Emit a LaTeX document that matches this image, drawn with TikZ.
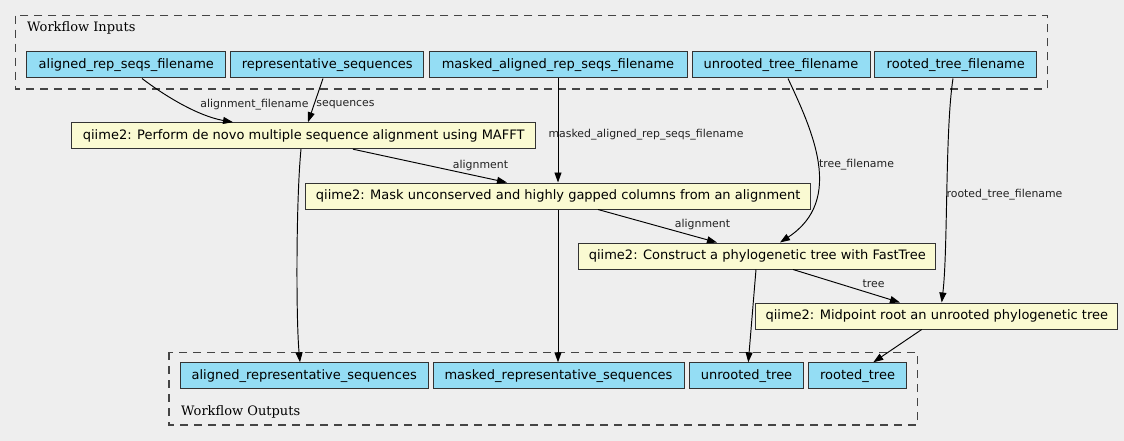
\documentclass[tikz,border=0pt]{standalone}
\usepackage{fontspec}
\setmainfont{DejaVu Sans}
\newfontfamily\clusterfont{DejaVu Serif}
\usetikzlibrary{arrows.meta}
\definecolor{bg}{HTML}{EEEEEE}
\definecolor{iofill}{HTML}{94DDF4}
\definecolor{stepfill}{HTML}{FAFAD2}
\definecolor{bordercol}{HTML}{333333}
\definecolor{clustercol}{HTML}{444444}
\definecolor{labelcol}{HTML}{222222}
\begin{document}
\begin{tikzpicture}[x=1pt,y=-1pt,
  basebox/.style={draw=bordercol, line width=1pt, minimum height=26pt,
    inner xsep=0pt, inner ysep=0pt, font=\fontsize{13}{15}\selectfont, anchor=center},
  iobox/.style={basebox, fill=iofill},
  stepbox/.style={basebox, fill=stepfill},
  clusterbox/.style={draw=clustercol, line width=1.1pt, dash pattern=on 8pt off 6pt},
  clusterlabel/.style={font=\clusterfont\fontsize{13}{15}\selectfont, anchor=base west, inner sep=0pt},
  edgelabel/.style={font=\fontsize{10.9}{12}\selectfont, text=labelcol, inner sep=0pt, anchor=center},
  edge/.style={draw=black, line width=0.95pt, -{Triangle[length=10pt,width=7pt]}}
]
\fill[bg] (0,0) rectangle (1124,441);
\useasboundingbox (0,0) rectangle (1124,441);

% clusters
\draw[clusterbox] (15.7,15.7) rectangle (1047.7,89);
\node[clusterlabel] (inlabel) at (27,32) {Workflow Inputs};
\draw[clusterbox] (169,352.3) rectangle (917.3,425);
\node[clusterlabel] (outlabel) at (181,415) {Workflow Outputs};

% inputs
\node[iobox, minimum width=199pt] (ars) at (126.3,65) {aligned\_rep\_seqs\_filename};
\node[iobox, minimum width=193pt] (rs) at (327.3,65) {representative\_sequences};
\node[iobox, minimum width=258pt] (mars) at (558,65) {masked\_aligned\_rep\_seqs\_filename};
\node[iobox, minimum width=178pt] (utf) at (781,65) {unrooted\_tree\_filename};
\node[iobox, minimum width=162pt] (rtf) at (955.8,65) {rooted\_tree\_filename};

% steps
\node[stepbox, minimum width=464pt] (mafft) at (303.7,135.7) {qiime2: Perform de novo multiple sequence alignment using MAFFT};
\node[stepbox, minimum width=505pt] (mask) at (558.2,196) {qiime2: Mask unconserved and highly gapped columns from an alignment};
\node[stepbox, minimum width=356.7pt] (fast) at (757.3,256) {qiime2: Construct a phylogenetic tree with FastTree};
\node[stepbox, minimum width=362.3pt] (mid) at (936.8,316) {qiime2: Midpoint root an unrooted phylogenetic tree};

% outputs
\node[iobox, minimum width=248.3pt] (arso) at (304.2,375.8) {aligned\_representative\_sequences};
\node[iobox, minimum width=251pt] (mrs) at (558.5,375.8) {masked\_representative\_sequences};
\node[iobox, minimum width=113.6pt] (ut) at (746.5,375.8) {unrooted\_tree};
\node[iobox, minimum width=97.6pt] (rt) at (857.5,375.8) {rooted\_tree};

% edges
\draw[edge] ([xshift=15.7pt]ars.south) .. controls (165,96) and (198,116) .. ([xshift=-70.7pt]mafft.north);
\draw[edge] ([xshift=-4.3pt]rs.south) -- ([xshift=4.3pt]mafft.north);
\draw[edge] (mars.south) -- ([xshift=-0.2pt]mask.north);
\draw[edge] ([xshift=7pt]utf.south) .. controls (812,130) and (845,200) .. ([xshift=22.7pt]fast.north);
\draw[edge] ([xshift=-2.8pt]rtf.south) .. controls (945,130) and (948,250) .. ([xshift=4.9pt]mid.north);
\draw[edge] ([xshift=49.3pt]mafft.south) -- ([xshift=-51.2pt]mask.north);
\draw[edge] ([xshift=-2.7pt]mafft.south) .. controls (296,200) and (296,320) .. ([xshift=-4.2pt]arso.north);
\draw[edge] ([xshift=39.8pt]mask.south) -- ([xshift=-40.3pt]fast.north);
\draw[edge] ([xshift=-0.2pt]mask.south) -- ([xshift=-0.5pt]mrs.north);
\draw[edge] ([xshift=35.7pt]fast.south) -- ([xshift=-36.8pt]mid.north);
\draw[edge] ([xshift=-1.3pt]fast.south) -- ([xshift=1.8pt]ut.north);
\draw[edge] ([xshift=-15.1pt]mid.south) -- ([xshift=15.8pt]rt.north);

% edge labels
\node[edgelabel] (l1) at (254.5,105) {alignment\_filename};
\node[edgelabel] (l2) at (345.5,105) {sequences};
\node[edgelabel] (l3) at (646,135) {masked\_aligned\_rep\_seqs\_filename};
\node[edgelabel] (l4) at (480.5,165) {alignment};
\node[edgelabel] (l5) at (856.5,165) {tree\_filename};
\node[edgelabel] (l6) at (1004.5,195) {rooted\_tree\_filename};
\node[edgelabel] (l7) at (702.5,224) {alignment};
\node[edgelabel] (l8) at (873.5,284) {tree};
\end{tikzpicture}
\end{document}
